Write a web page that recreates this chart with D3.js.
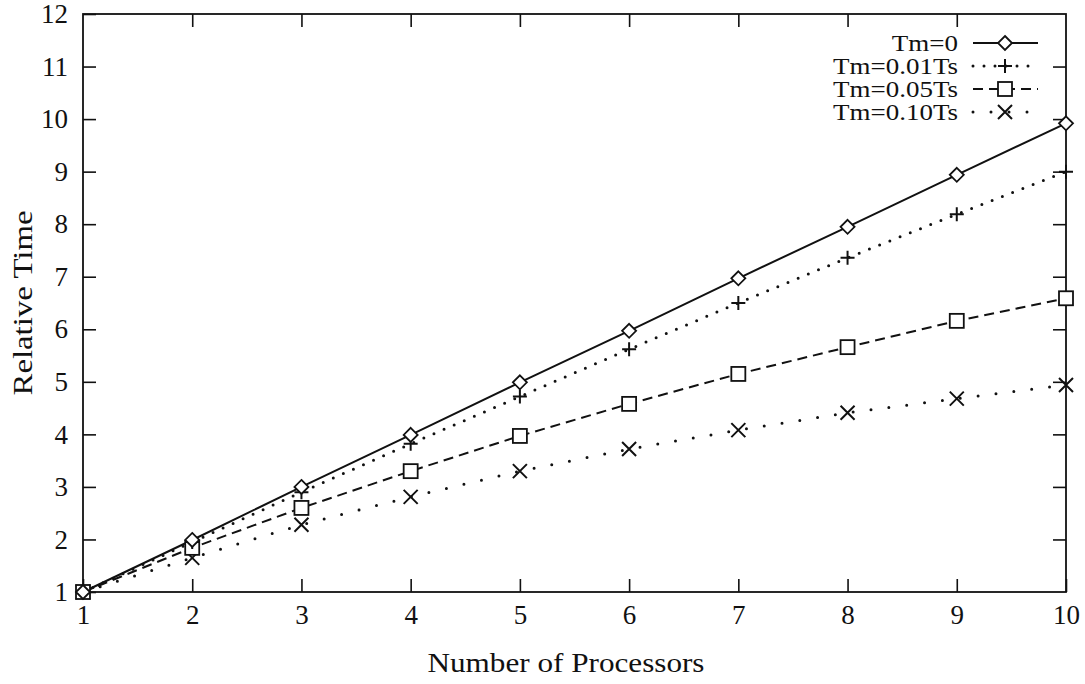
<!DOCTYPE html>
<html>
<head>
<meta charset="utf-8">
<script src="https://cdn.jsdelivr.net/npm/d3@7"></script>
<style>
  body { margin: 0; background: #fff; }
  svg text { font-family: "Liberation Serif", "Times New Roman", serif; fill: #111; }
</style>
</head>
<body>
<div id="chart"></div>
<script>
// processors on the x axis
const processors = [1, 2, 3, 4, 5, 6, 7, 8, 9, 10];
// relative time for each Tm setting
const tm0    = [1, 1.99, 3.0, 3.99, 4.99, 5.97, 6.97, 7.95, 8.94, 9.92];
const tm001  = [1, 1.95, 2.9, 3.82, 4.72, 5.62, 6.5, 7.36, 8.19, 9.0];
const tm005  = [1, 1.84, 2.6, 3.3, 3.97, 4.58, 5.15, 5.66, 6.16, 6.59];
const tm010  = [1, 1.65, 2.28, 2.81, 3.3, 3.72, 4.08, 4.41, 4.68, 4.94];
const seriesNames = ["Tm=0", "Tm=0.01Ts", "Tm=0.05Ts", "Tm=0.10Ts"];
const xTicks = [1, 2, 3, 4, 5, 6, 7, 8, 9, 10];
const yTicks = [1, 2, 3, 4, 5, 6, 7, 8, 9, 10, 11, 12];

const width = 1085, height = 684;
const margin = {top: 14, right: 19, bottom: 92, left: 83};

const svg = d3.select("#chart").append("svg")
    .attr("width", width)
    .attr("height", height);

const x = d3.scaleLinear().domain([1, 10]).range([margin.left, width - margin.right]);
const y = d3.scaleLinear().domain([1, 12]).range([height - margin.bottom, margin.top]);

const tickLen = 13;

// axes on all four sides, ticks pointing inward (gnuplot style)
const axisStyle = g => {
    g.select(".domain").remove();
    g.selectAll(".tick line").attr("stroke", "#111").attr("stroke-width", 1.6);
    g.selectAll(".tick text").attr("font-size", 27).attr("fill", "#111")
        .attr("font-family", "Liberation Serif, serif");
};

svg.append("g")
    .attr("transform", `translate(0,${y(1)})`)
    .call(d3.axisBottom(x).tickValues(xTicks).tickSize(-tickLen).tickPadding(13).tickFormat(d3.format("d")))
    .call(axisStyle);

svg.append("g")
    .attr("transform", `translate(0,${y(12)})`)
    .call(d3.axisTop(x).tickValues(xTicks.slice(1, -1)).tickSize(-tickLen).tickFormat(""))
    .call(axisStyle);

svg.append("g")
    .attr("transform", `translate(${x(1)},0)`)
    .call(d3.axisLeft(y).tickValues(yTicks).tickSize(-tickLen).tickPadding(15).tickFormat(d3.format("d")))
    .call(axisStyle);

svg.append("g")
    .attr("transform", `translate(${x(10)},0)`)
    .call(d3.axisRight(y).tickValues(yTicks.slice(1, -1)).tickSize(-tickLen).tickFormat(""))
    .call(axisStyle);

// frame
svg.append("rect")
    .attr("x", x(1)).attr("y", y(12))
    .attr("width", x(10) - x(1)).attr("height", y(1) - y(12))
    .attr("fill", "none").attr("stroke", "#111").attr("stroke-width", 1.8);

// axis titles (the scan is a bit wider than the font, so stretch)
svg.append("text")
    .attr("x", 566).attr("y", 672)
    .attr("text-anchor", "middle")
    .attr("font-size", 28)
    .attr("textLength", 277)
    .attr("lengthAdjust", "spacingAndGlyphs")
    .text("Number of Processors");

svg.append("text")
    .attr("transform", `translate(32,${(y(1) + y(12)) / 2}) rotate(-90)`)
    .attr("text-anchor", "middle")
    .attr("font-size", 28)
    .attr("textLength", 185)
    .attr("lengthAdjust", "spacingAndGlyphs")
    .text("Relative Time");

// marker shapes
function marker(g, kind) {
    const s = 7;
    if (kind === "diamond") {
        g.append("path").attr("d", `M0,${-s}L${s},0L0,${s}L${-s},0Z`)
            .attr("fill", "#fff").attr("stroke", "#111").attr("stroke-width", 1.8);
    } else if (kind === "plus") {
        g.append("path").attr("d", `M${-s},0H${s}M0,${-s}V${s}`)
            .attr("stroke", "#111").attr("stroke-width", 2);
    } else if (kind === "square") {
        g.append("rect").attr("x", -s).attr("y", -s).attr("width", 2 * s).attr("height", 2 * s)
            .attr("fill", "#fff").attr("stroke", "#111").attr("stroke-width", 1.8);
    } else {
        g.append("path").attr("d", `M${-s},${-s}L${s},${s}M${-s},${s}L${s},${-s}`)
            .attr("stroke", "#111").attr("stroke-width", 2);
    }
}

const series = [
    {name: seriesNames[0], values: tm0,   dash: null,    cap: "butt",  kind: "diamond"},
    {name: seriesNames[1], values: tm001, dash: "0,11",  cap: "round", kind: "plus"},
    {name: seriesNames[2], values: tm005, dash: "10,6",  cap: "butt",  kind: "square"},
    {name: seriesNames[3], values: tm010, dash: "0,18",  cap: "round", kind: "cross"}
];

const line = d3.line()
    .x((d, i) => x(processors[i]))
    .y(d => y(d));

series.forEach(s => {
    svg.append("path")
        .datum(s.values)
        .attr("d", line)
        .attr("fill", "none")
        .attr("stroke", "#111")
        .attr("stroke-width", s.dash && s.cap === "round" ? 3 : 2)
        .attr("stroke-linecap", s.cap)
        .attr("stroke-dasharray", s.dash);
});

series.slice().reverse().forEach(s => {
    s.values.forEach((v, i) => {
        const g = svg.append("g").attr("transform", `translate(${x(processors[i])},${y(v)})`);
        marker(g, s.kind);
    });
});

// legend
const legend = svg.append("g");
const legendRows = legend.selectAll("text")
    .data(series)
    .enter().append("text")
    .attr("x", 958)
    .attr("y", (d, i) => 43 + i * 23)
    .attr("dy", "0.35em")
    .attr("text-anchor", "end")
    .attr("font-size", 23)
    .text(d => d.name);

// stretch legend text horizontally to the scan's width
const natural = legendRows.nodes().map(n => n.getComputedTextLength());
const k = 125 / d3.max(natural);
legendRows.attr("textLength", (d, i) => natural[i] * k)
    .attr("lengthAdjust", "spacingAndGlyphs");

series.forEach((s, i) => {
    const ly = 43 + i * 23;
    legend.append("path")
        .attr("d", `M973,${ly}H1038`)
        .attr("fill", "none")
        .attr("stroke", "#111")
        .attr("stroke-width", s.dash && s.cap === "round" ? 3 : 2)
        .attr("stroke-linecap", s.cap)
        .attr("stroke-dasharray", s.dash);
    const g = legend.append("g").attr("transform", `translate(1005,${ly})`);
    marker(g, s.kind);
});
</script>
</body>
</html>
